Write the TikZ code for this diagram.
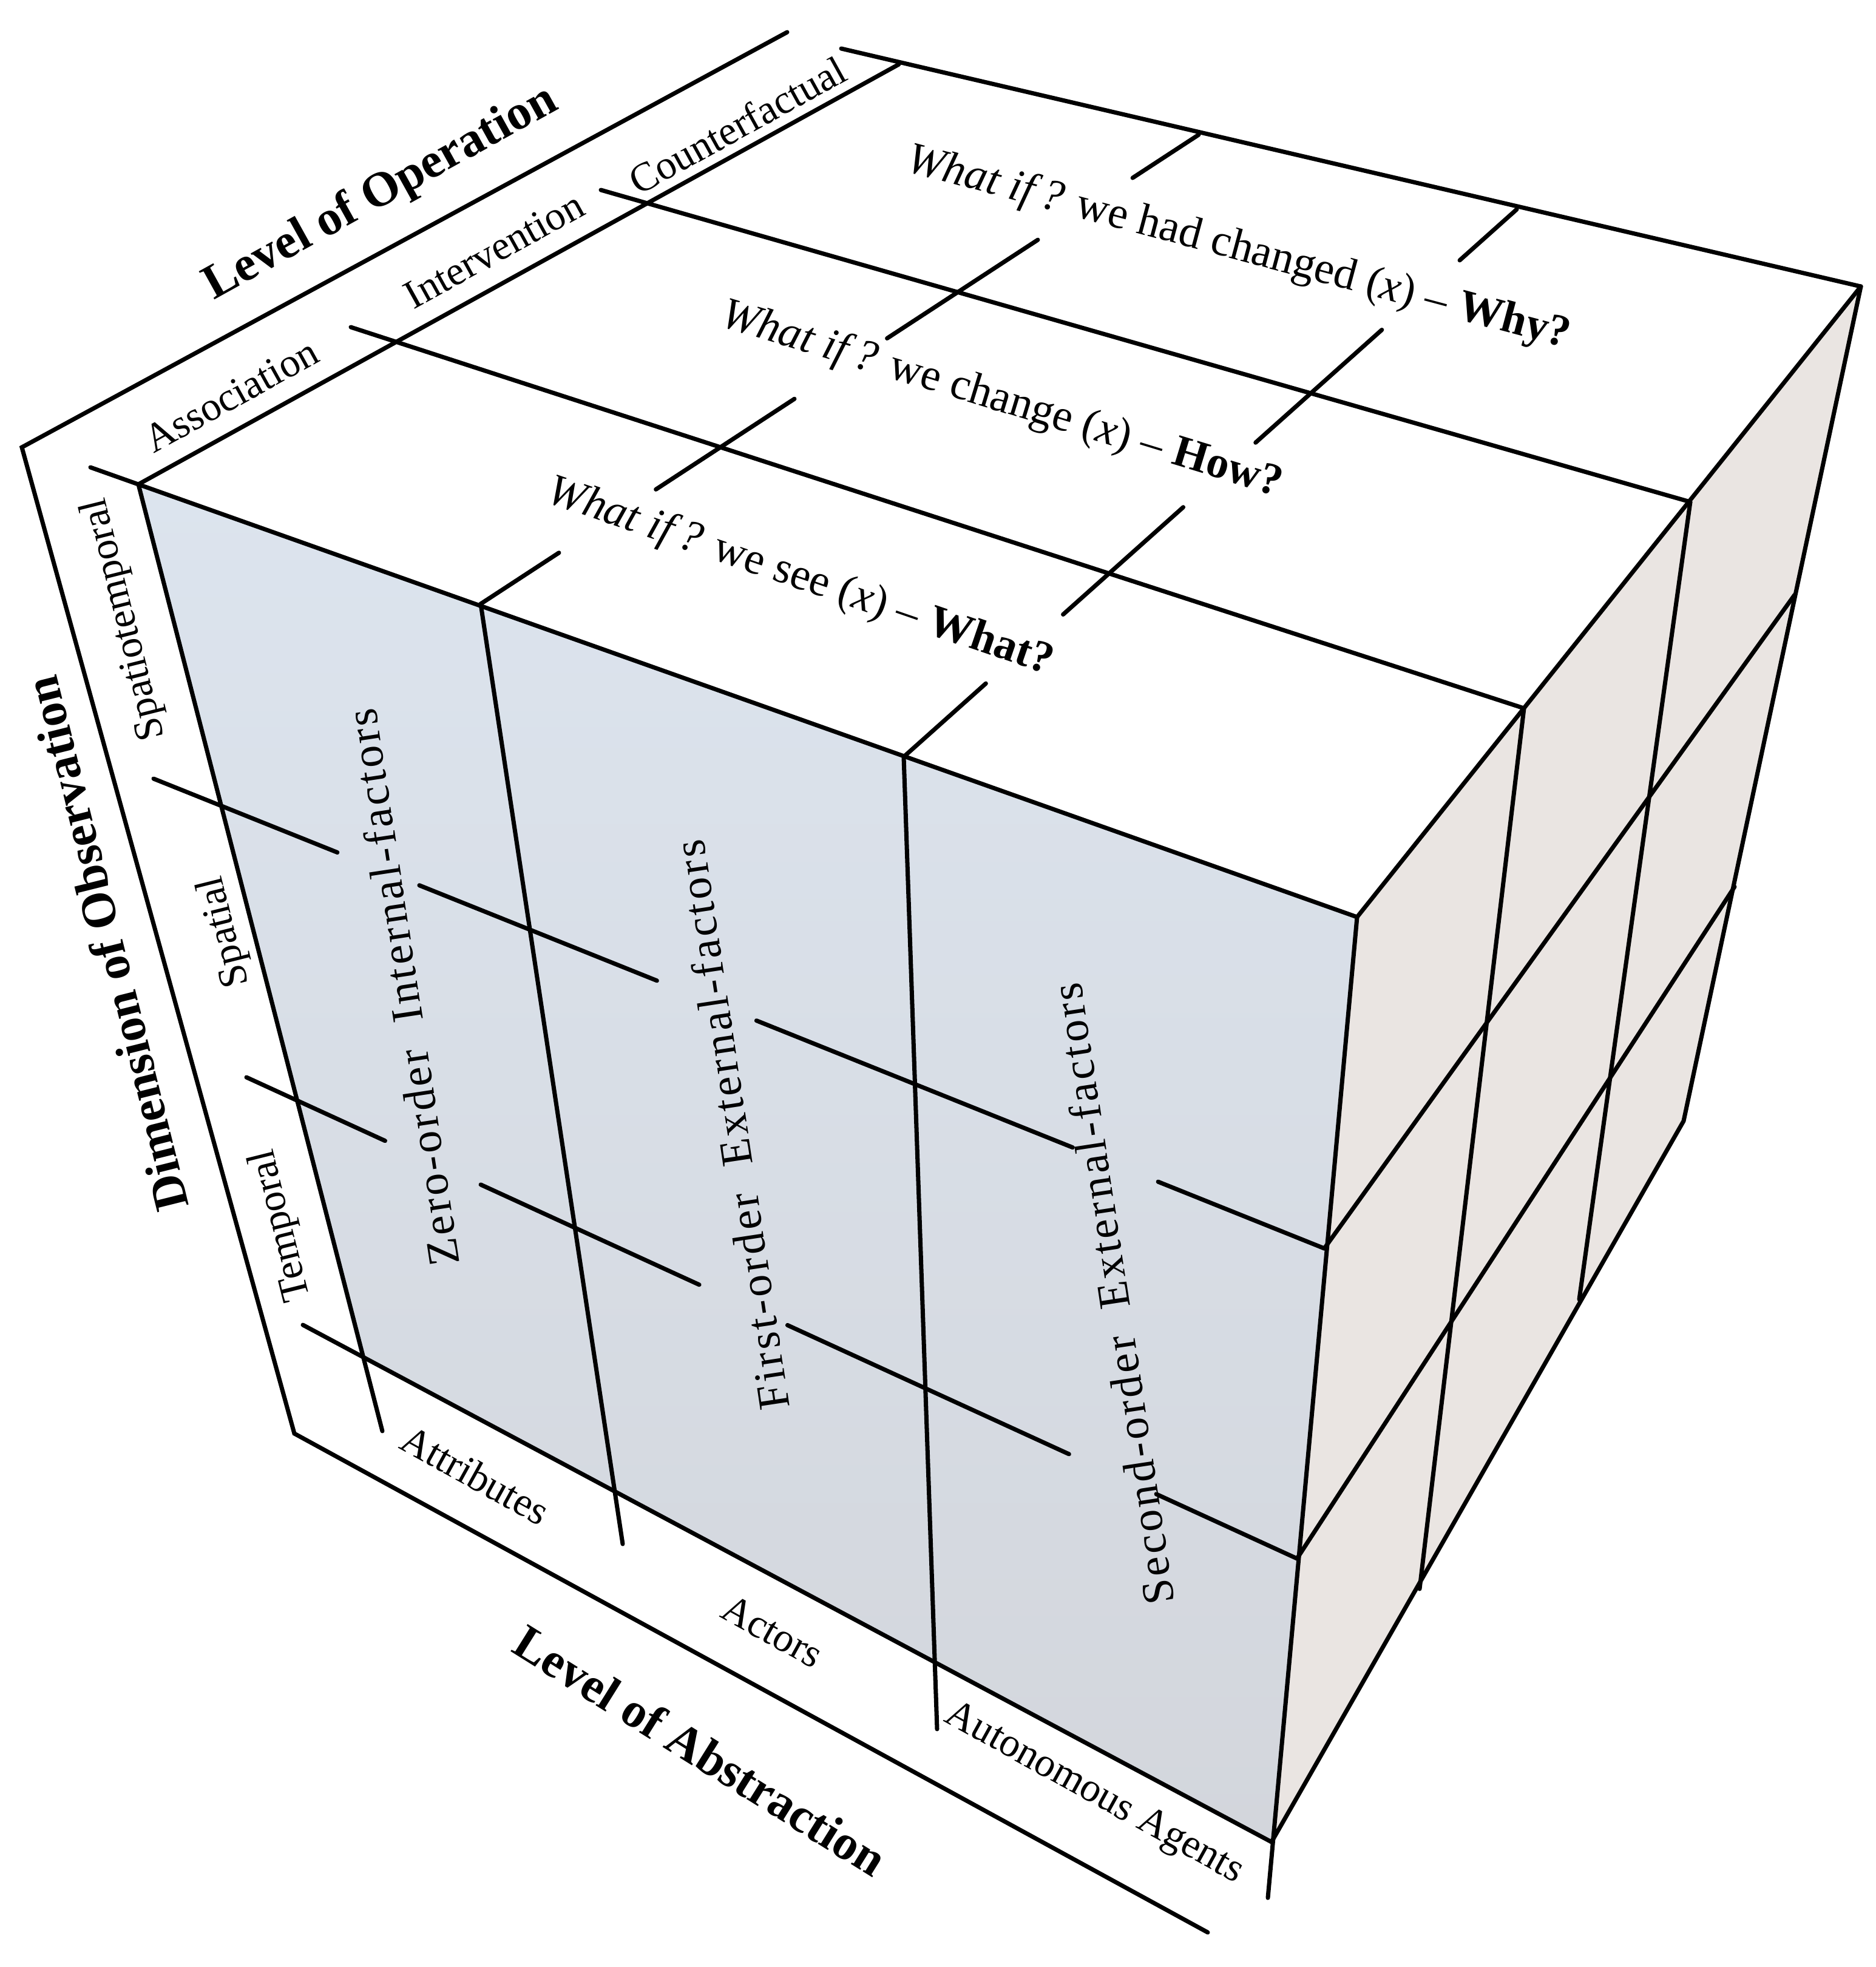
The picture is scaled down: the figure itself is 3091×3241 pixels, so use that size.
\documentclass[tikz,border=0pt]{standalone}
\usepackage{fontspec}
\setmainfont{Liberation Serif}
\usetikzlibrary{calc}
\definecolor{frontTop}{HTML}{DCE4EE}
\definecolor{frontBot}{HTML}{D3D6DC}
\definecolor{sideC}{HTML}{EAE5E2}
\begin{document}
\begin{tikzpicture}[x=0.01cm,y=-0.01cm,
  ln/.style={line width=2pt,line cap=round},
  lab/.style={font=\fontsize{19}{22}\selectfont,inner sep=0pt},
  qlab/.style={font=\fontsize{21}{24}\selectfont,inner sep=0pt},
  flab/.style={font=\fontsize{21}{24}\selectfont\addfontfeature{LetterSpace=6},inner sep=0pt,rotate=98.6},
  axl/.style={font=\fontsize{23}{26}\selectfont\bfseries,inner sep=0pt}]
\useasboundingbox (0,0) rectangle (3091,3241);
% corners
\coordinate (TL) at (228,798);
\coordinate (TR) at (2236,1511);
\coordinate (BR) at (2095,3035);
\coordinate (BL) at (594,2235);
\coordinate (BK) at (1481,106);
\coordinate (RT) at (3066,472);
\coordinate (RB) at (2774,1847);
% faces
\shade[top color=frontTop,bottom color=frontBot] (TL)--(TR)--(BR)--(BL)--cycle;
\fill[sideC] (TR)--(RT)--(RB)--(BR)--cycle;
% outer axes
\coordinate (O1) at (36,737);
\coordinate (O2) at (485,2362);
\coordinate (O3) at (1990,3184);
\coordinate (O0) at (1297,53);
\draw[ln] (O0)--(O1)--(O2)--(O3);
% top face
\coordinate (BKx) at (1386,80);
\draw[ln] (BKx)--(RT);
\draw[ln] (TL)--(BK);
\draw[ln] (149,770)--(TR);
\coordinate (R1s) at (578,539); \coordinate (R1e) at (2511,1167);
\coordinate (R2s) at (990,313); \coordinate (R2e) at (2785,827);
\draw[ln] (R1s)--(R1e);
\draw[ln] (R2s)--(R2e);
\draw[ln] (RT)--(TR);
% top column ticks
\coordinate (C1s) at (792,995); \coordinate (C1e) at (1975,222);
\coordinate (C2s) at (1489,1247); \coordinate (C2e) at (2499,345);
\foreach \a/\b in {0/0.109,0.244/0.437,0.566/0.776,0.908/1}
  \draw[ln] ($(C1s)!\a!(C1e)$)--($(C1s)!\b!(C1e)$);
\foreach \a/\b in {0/0.134,0.260/0.456,0.574/0.780,0.907/1}
  \draw[ln] ($(C2s)!\a!(C2e)$)--($(C2s)!\b!(C2e)$);
% front face verticals
\draw[ln] (TL)--(630,2358);
\draw[ln] (C1s)--(1026,2544);
\draw[ln] (C2s)--(1544,2849);
\draw[ln] (TR)--(2089,3127);
% bottom edge
\draw[ln] (499,2183)--(BR);
% front horizontals (broken)
\coordinate (H1s) at (253,1283); \coordinate (H1e) at (2182,2057);
\coordinate (H2s) at (406,1775); \coordinate (H2e) at (2137,2568);
\foreach \a/\b in {0/0.157,0.227/0.43,0.515/0.785,0.858/1}
  \draw[ln] ($(H1s)!\a!(H1e)$)--($(H1s)!\b!(H1e)$);
\foreach \a/\b in {0/0.132,0.223/0.431,0.515/0.783,0.866/1}
  \draw[ln] ($(H2s)!\a!(H2e)$)--($(H2s)!\b!(H2e)$);
% right face
\draw[ln] (RT)--(RB)--(BR);
\draw[ln] (2511,1167)--(2339,2618);
\draw[ln] (2785,827)--(2602,2141);
\draw[ln] (2182,2057)--(2957,980);
\draw[ln] (2137,2568)--(2858,1461);
% top face texts
\node[qlab,rotate=-19] (q1) at (1318,952) {\textit{What if\,?} we see (\textit{x}) -- \textbf{What?}};
\node[qlab,rotate=-17] (q2) at (1650,660) {\textit{What if\,?} we change (\textit{x}) -- \textbf{How?}};
\node[qlab,rotate=-15] (q3) at (2040,410) {\textit{What if\,?} we had changed (\textit{x}) -- \textbf{Why?}};
% front texts
\node[flab] (f1) at (663,1627) {Zero-order\ \ Internal-factors};
\node[flab] (f2) at (1205,1854) {First-order\ \ External-factors};
\node[flab] (f3) at (1833,2132) {Second-order\ \ External-factors};
% strip labels
\node[lab,rotate=29] (a1) at (381,652) {Association};
\node[lab,rotate=29] (a2) at (814,412) {Intervention};
\node[lab,rotate=29] (a3) at (1215,206) {Counterfactual};
\node[axl,rotate=29] (a0) at (628,319) {Level of Operation};
\node[lab,rotate=104] (d1) at (206,1020) {Spatiotemporal};
\node[lab,rotate=104] (d2) at (371,1535) {Spatial};
\node[lab,rotate=104] (d3) at (464,2019) {Temporal};
\node[axl,rotate=104] (d0) at (175,1555) {Dimension of Observation};
\node[lab,rotate=-29] (b1) at (783,2430) {Attributes};
\node[lab,rotate=-29] (b2) at (1273,2688) {Actors};
\node[lab,rotate=-29] (b3) at (1802,2956) {Autonomous Agents};
\node[axl,rotate=-32] (b0) at (1154,2884) {Level of Abstraction};
\end{tikzpicture}
\end{document}
